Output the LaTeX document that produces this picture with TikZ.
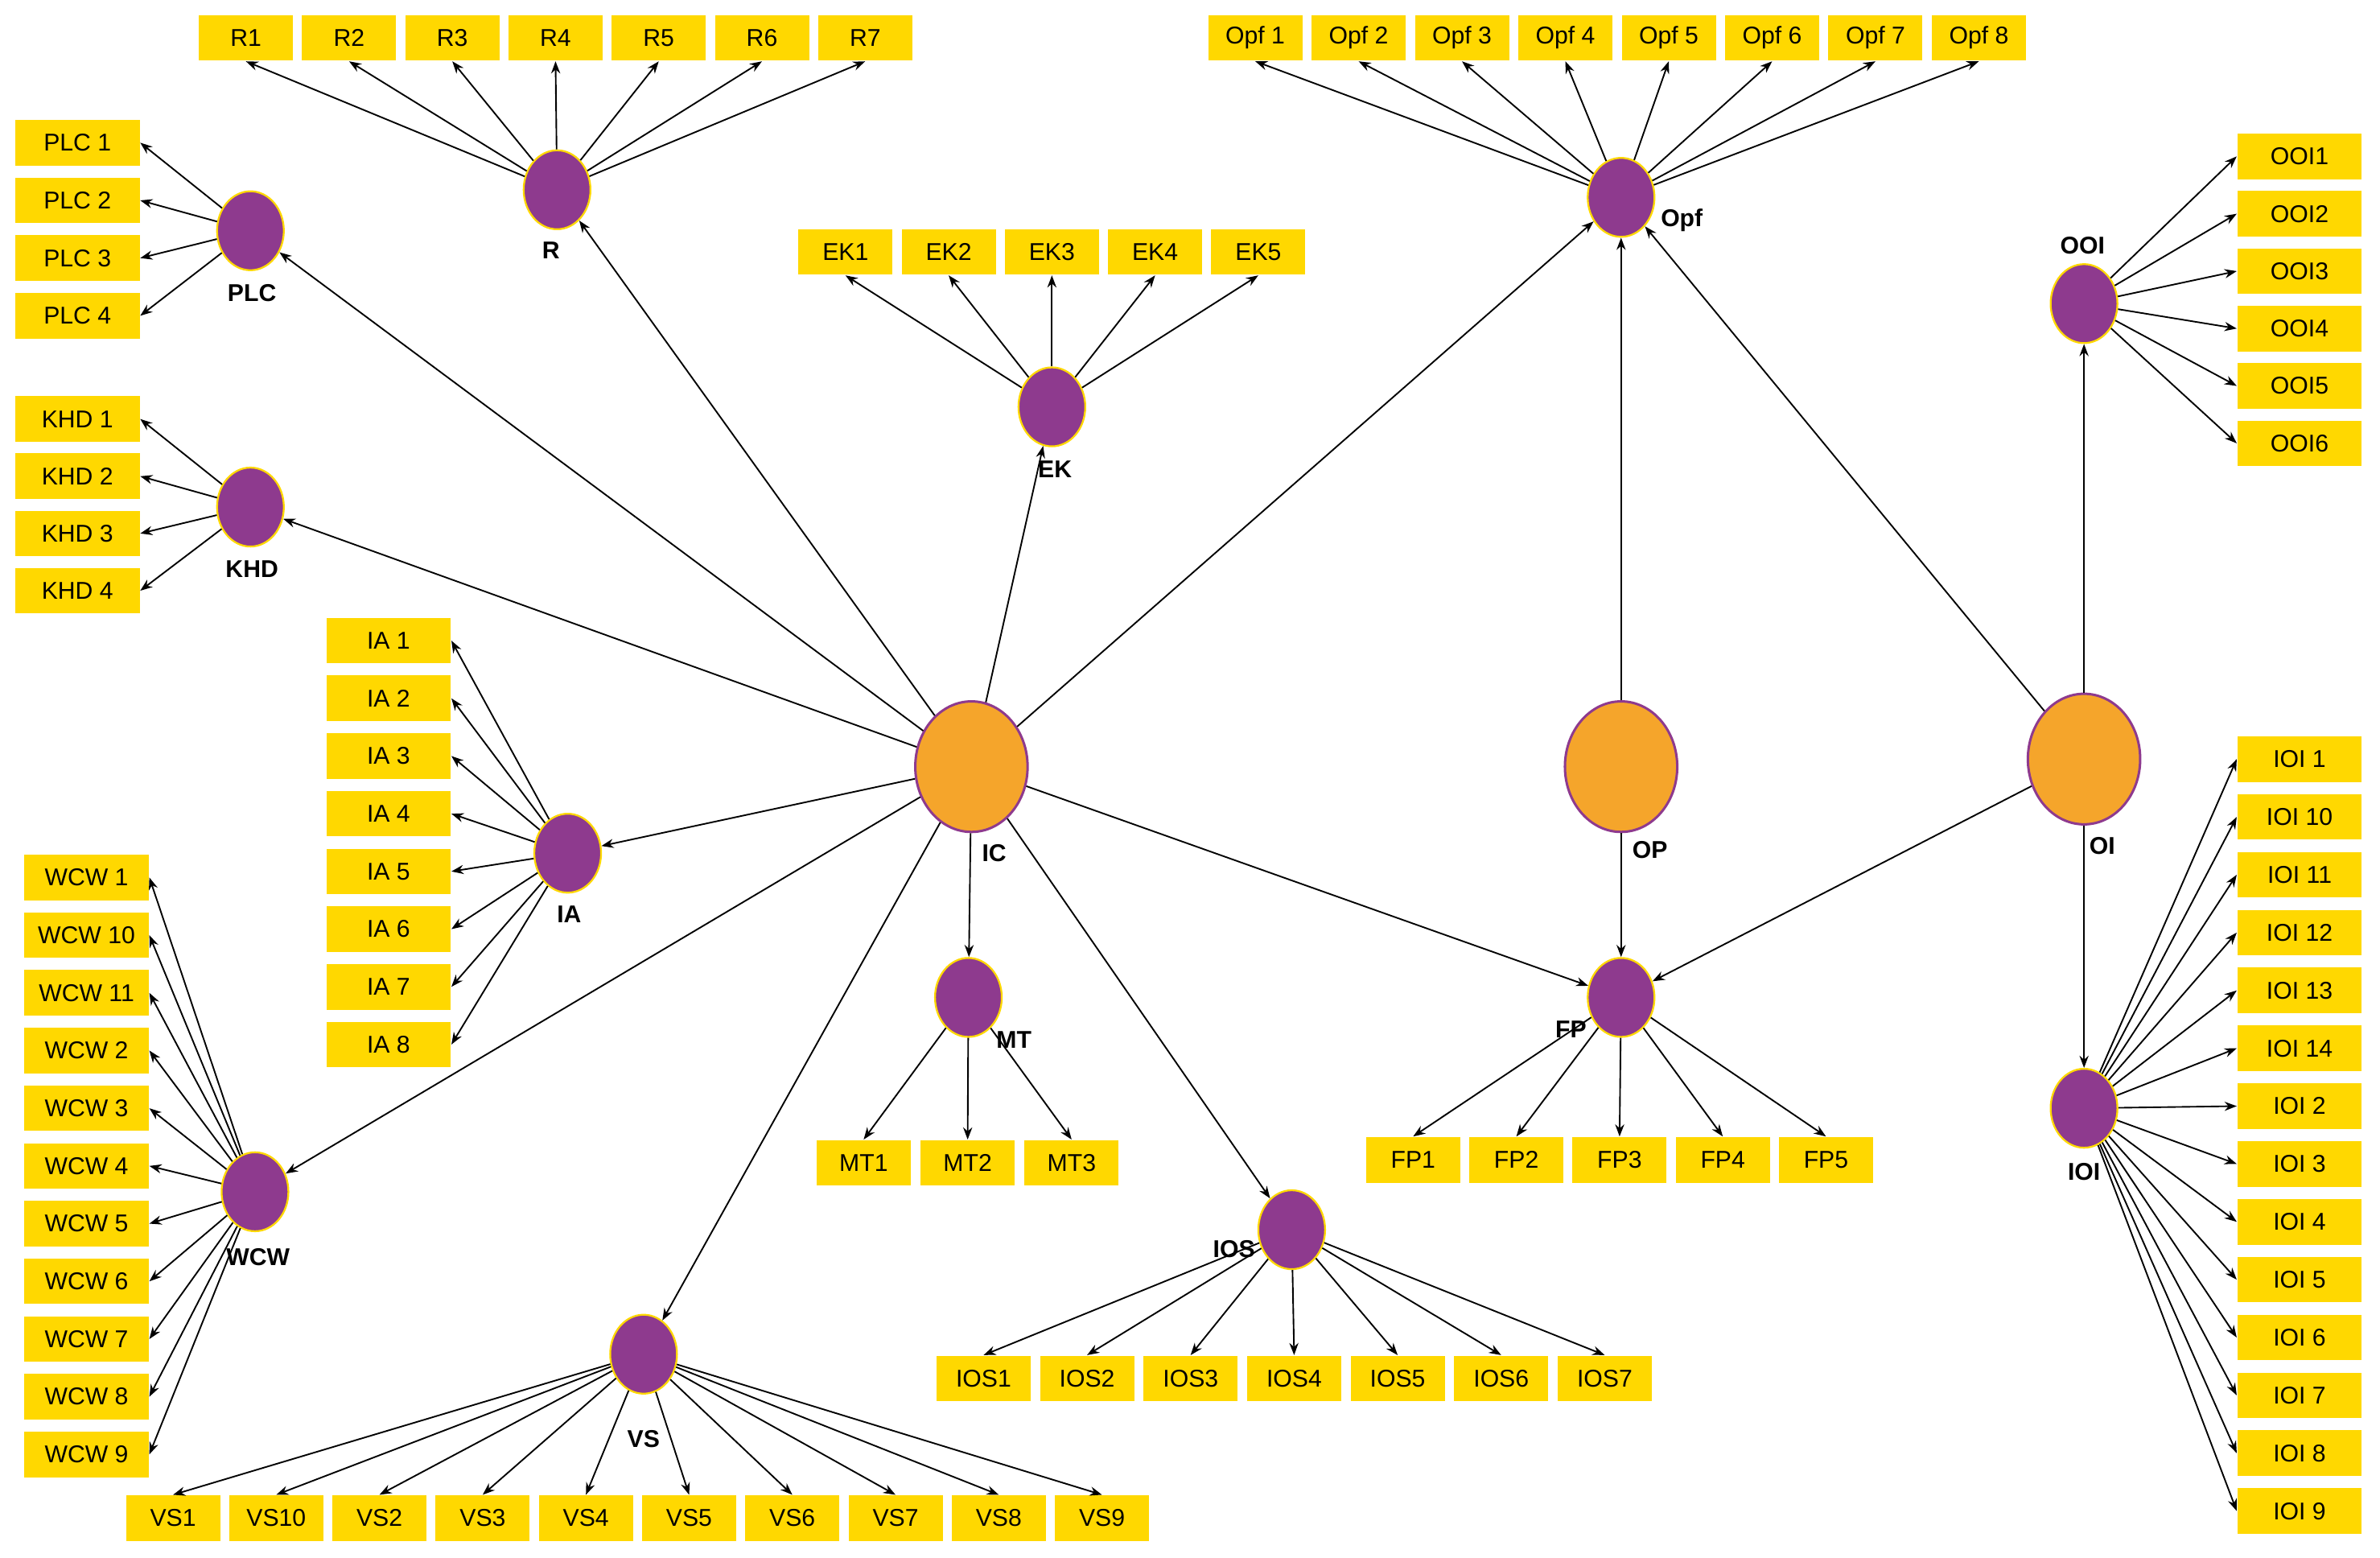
\documentclass[tikz,border=0pt]{standalone}
\usepackage{fontspec}
\setmainfont{Liberation Sans}
\usetikzlibrary{arrows.meta,shapes.geometric}
\definecolor{boxy}{HTML}{FFD800}
\definecolor{purp}{HTML}{8E3A8E}
\definecolor{oran}{HTML}{F5A52B}
\begin{document}
\begin{tikzpicture}[x=0.5pt,y=-0.5pt,
 box/.style={fill=boxy,draw=none,minimum width=31pt,minimum height=15pt,inner sep=0pt,font=\fontsize{8}{9}\selectfont},
 wbox/.style={box,minimum width=41pt},
 lv/.style={ellipse,fill=purp,draw=boxy,line width=0.6pt,minimum width=22pt,minimum height=26pt,inner sep=0pt},
 big/.style={ellipse,fill=oran,draw=purp,line width=0.8pt,minimum width=37pt,minimum height=43pt,inner sep=0pt},
 lab/.style={font=\bfseries\fontsize{8}{9}\selectfont},
 ar/.style={-{Stealth[length=4pt,width=3pt]},line width=0.5pt}]
\useasboundingbox (0,0) rectangle (1568,1026);
% construct circles
\node[big] (IC) at (640,505) {}; \node[lab] (ICl) at (655,562) {IC};
\node[big] (OP) at (1068,505) {}; \node[lab] (OPl) at (1087,560) {OP};
\node[big] (OI) at (1373,500) {}; \node[lab] (OIl) at (1385,557) {OI};
\node[lv] (R) at (367,125) {}; \node[lab] (Rl) at (363,165) {R};
\node[lv] (PLC) at (165,152) {}; \node[lab] (PLCl) at (166,193) {PLC};
\node[lv] (KHD) at (165,334) {}; \node[lab] (KHDl) at (166,375) {KHD};
\node[lv] (EK) at (693,268) {}; \node[lab] (EKl) at (695,309) {EK};
\node[lv] (Opf) at (1068,130) {}; \node[lab] (Opfl) at (1108,145) {Opf};
\node[lv] (OOI) at (1373,200) {}; \node[lab] (OOIl) at (1372,162) {OOI};
\node[lv] (IA) at (374,562) {}; \node[lab] (IAl) at (375,602) {IA};
\node[lv] (WCW) at (168,785) {}; \node[lab] (WCWl) at (170,828) {WCW};
\node[lv] (MT) at (638,657) {}; \node[lab] (MTl) at (668,685) {MT};
\node[lv] (FP) at (1068,657) {}; \node[lab] (FPl) at (1035,678) {FP};
\node[lv] (IOS) at (851,810) {}; \node[lab] (IOSl) at (813,823) {IOS};
\node[lv] (VS) at (424,892) {}; \node[lab] (VSl) at (424,948) {VS};
\node[lv] (IOI) at (1373,730) {}; \node[lab] (IOIl) at (1373,772) {IOI};
% structural arrows
\foreach \t in {PLC,R,EK,Opf,KHD,IA,WCW,VS,MT,IOS,FP} \draw[ar] (IC) -- (\t);
\draw[ar] (OP) -- (Opf); \draw[ar] (OP) -- (FP);
\foreach \t in {Opf,OOI,IOI,FP} \draw[ar] (OI) -- (\t);
% R
\foreach \i [count=\k from 0] in {1,...,7} {
 \node[box] (R\i) at (162+68*\k,25) {R\i};
 \draw[ar] (R) -- (R\i.south);}
% Opf
\foreach \i [count=\k from 0] in {1,...,8} {
 \node[box] (Opf\i) at (827+68.1*\k,25) {Opf \i};
 \draw[ar] (Opf) -- (Opf\i.south);}
% EK
\foreach \i [count=\k from 0] in {1,...,5} {
 \node[box] (EK\i) at (557+68*\k,166) {EK\i};
 \draw[ar] (EK) -- (EK\i.south);}
% PLC
\foreach \i [count=\k from 0] in {1,...,4} {
 \node[wbox] (PLC\i) at (51,94+38*\k) {PLC \i};
 \draw[ar] (PLC) -- (PLC\i.east);}
% KHD
\foreach \i [count=\k from 0] in {1,...,4} {
 \node[wbox] (KHD\i) at (51,276+37.7*\k) {KHD \i};
 \draw[ar] (KHD) -- (KHD\i.east);}
% OOI
\foreach \i [count=\k from 0] in {1,...,6} {
 \node[wbox] (OOI\i) at (1515,103+37.8*\k) {OOI\i};
 \draw[ar] (OOI) -- (OOI\i.west);}
% IA
\foreach \i [count=\k from 0] in {1,...,8} {
 \node[wbox] (IA\i) at (256,422+38*\k) {IA \i};
 \draw[ar] (IA) -- (IA\i.east);}
% WCW
\foreach \i [count=\k from 0] in {1,10,11,2,3,4,5,6,7,8,9} {
 \node[wbox] (WCW\i) at (57,578+38*\k) {WCW \i};
 \draw[ar] (WCW) -- (WCW\i.east);}
% IOI
\foreach \i [count=\k from 0] in {1,10,11,12,13,14,2,3,4,5,6,7,8,9} {
 \node[wbox] (IOI\i) at (1515,500+38.1*\k) {IOI \i};
 \draw[ar] (IOI) -- (IOI\i.west);}
% MT
\foreach \i [count=\k from 0] in {1,2,3} {
 \node[box] (MT\i) at (569+68.5*\k,766) {MT\i};
 \draw[ar] (MT) -- (MT\i.north);}
% FP
\foreach \i [count=\k from 0] in {1,...,5} {
 \node[box] (FP\i) at (931+68*\k,764) {FP\i};
 \draw[ar] (FP) -- (FP\i.north);}
% IOS
\foreach \i [count=\k from 0] in {1,...,7} {
 \node[box] (IOS\i) at (648+68.2*\k,908) {IOS\i};
 \draw[ar] (IOS) -- (IOS\i.north);}
% VS
\foreach \i [count=\k from 0] in {1,10,2,3,4,5,6,7,8,9} {
 \node[box] (VS\i) at (114+68*\k,1000) {VS\i};
 \draw[ar] (VS) -- (VS\i.north);}
\end{tikzpicture}
\end{document}
